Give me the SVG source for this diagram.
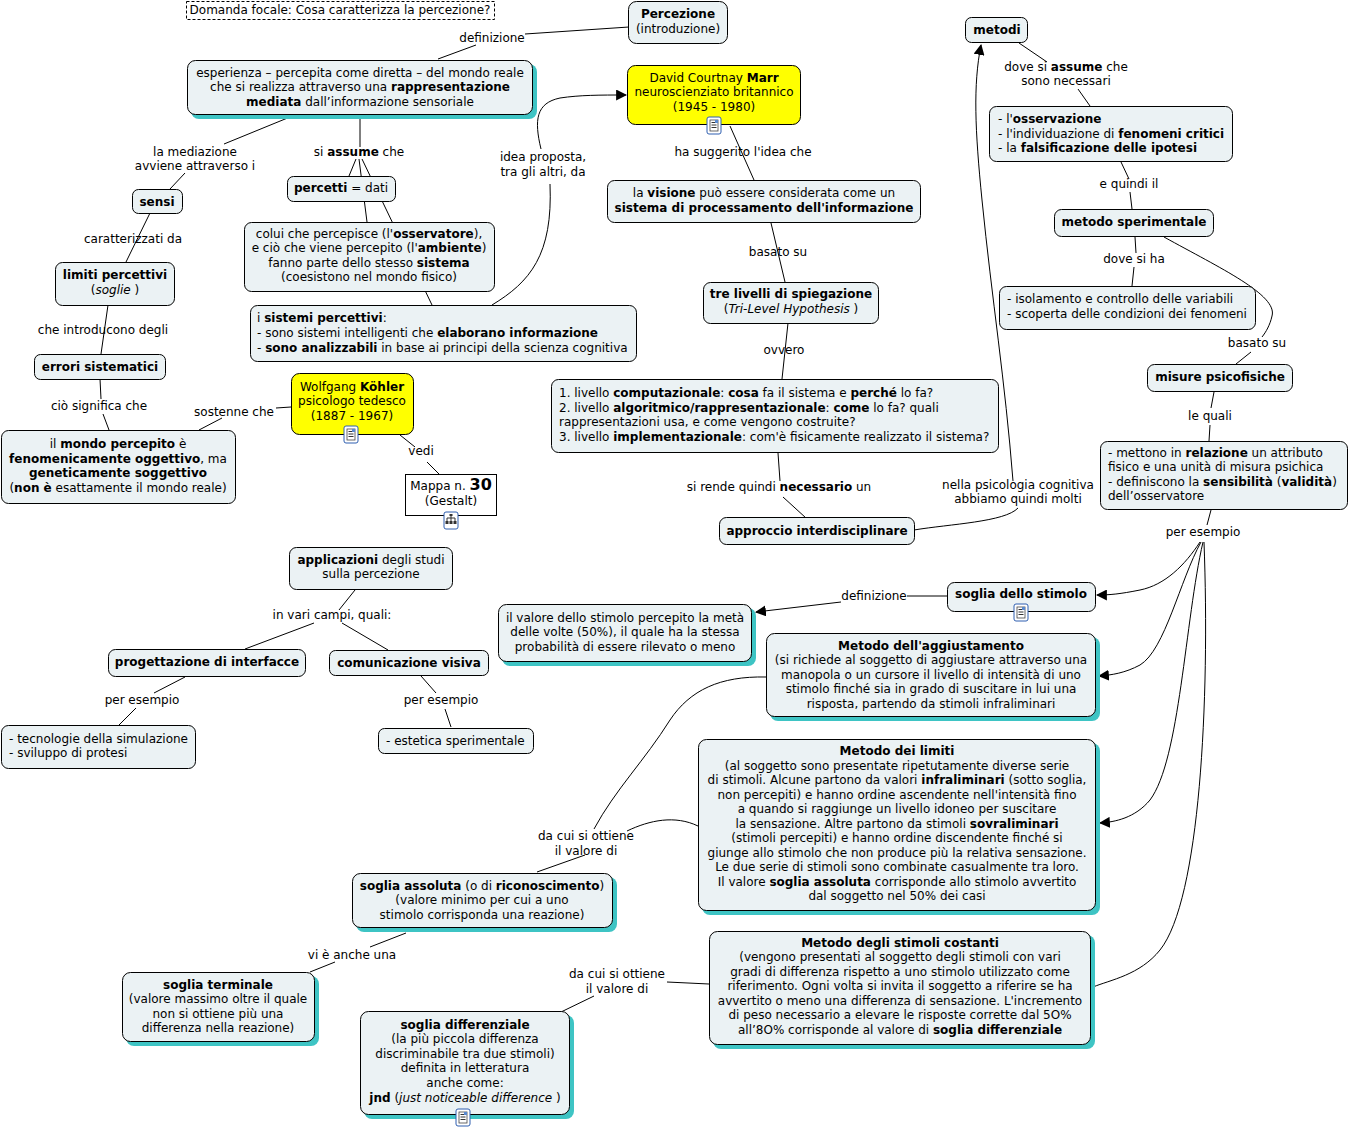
<svg xmlns="http://www.w3.org/2000/svg" width="1350" height="1129" viewBox="0 0 1350 1129">
<defs>
<style>
text{font-family:"DejaVu Sans",Verdana,sans-serif;font-size:12px;fill:#000}
.c{text-anchor:middle}
.b{font-weight:bold}
.i{font-style:italic}
.n{fill:#EBF2F4;stroke:#000;stroke-width:1}
.y{fill:#FFFF00;stroke:#000;stroke-width:1}
.sh{fill:#3EC4C4}
.l{fill:none;stroke:#000;stroke-width:1}
.ic{fill:#fff;stroke:#2F5FB0;stroke-width:1}
.il{fill:none;stroke:#333;stroke-width:1}
</style>
<marker id="ar" viewBox="0 0 10 10" refX="9" refY="5" markerWidth="11" markerHeight="11" markerUnits="userSpaceOnUse" orient="auto"><path d="M0,0 L10,5 L0,10 z" fill="#000"/></marker>
<g id="doc"><rect x="-7" y="-8" width="14" height="17" rx="2" class="ic"/><rect x="-4" y="-5" width="8" height="11" fill="#fff" stroke="#444" stroke-width="0.8"/><path d="M-2.5,-2.5h5M-2.5,0h5M-2.5,2.5h5" class="il"/><rect x="1" y="-5" width="3" height="3" fill="#5A8AD0"/></g>
<g id="map"><rect x="-7" y="-8" width="14" height="17" rx="2" class="ic"/><path d="M0,-5v3M-4,-2h8M-4,-2v3M4,-2v3M0,-2v3" class="il"/><rect x="-1.5" y="-6" width="3" height="2" fill="#333"/><rect x="-5.5" y="1" width="3" height="3" fill="#333"/><rect x="-1.5" y="1" width="3" height="3" fill="#333"/><rect x="2.5" y="1" width="3" height="3" fill="#333"/></g>
</defs>
<rect width="1350" height="1129" fill="#fff"/>

<g id="connectors">
<path class="l" d="M629,27 L525,34"/>
<path class="l" d="M476,45 L438,59"/>
<path class="l" d="M290,117 L224,144"/>
<path class="l" d="M185,173 L170,189"/>
<path class="l" d="M360,118 L360,147"/>
<path class="l" d="M356,159 L349,176"/>
<path class="l" d="M359,159 L367,222"/>
<path class="l" d="M362,159 L432,305"/>
<path class="l" d="M150,213 L126,262"/>
<path class="l" d="M108,305 L101,354"/>
<path class="l" d="M100,379 L101,399"/>
<path class="l" d="M103,414 L109,430"/>
<path class="l" d="M291,407 L276,408"/>
<path class="l" d="M222,418 L199,430"/>
<path class="l" d="M400,435 L415,447"/>
<path class="l" d="M427,462 L439,474"/>
<path class="l" d="M492,305 C530,282 553,255 550,184"/>
<path class="l" d="M541,149 C534,120 536,103 560,98 C580,95 600,95 626,95" marker-end="url(#ar)"/>
<path class="l" d="M730,126 L754,180"/>
<path class="l" d="M771,223 L785,282"/>
<path class="l" d="M788,323 L782,379"/>
<path class="l" d="M778,453 L780,481"/>
<path class="l" d="M783,497 L806,518"/>
<path class="l" d="M914,530 C950,524 1005,522 1018,508"/>
<path class="l" d="M1013,481 C1005,380 992,300 982,200 C975,130 973,85 981,45" marker-end="url(#ar)"/>
<path class="l" d="M1019,43 L1047,62"/>
<path class="l" d="M1078,89 L1090,106"/>
<path class="l" d="M1121,162 L1129,179"/>
<path class="l" d="M1130,192 L1132,209"/>
<path class="l" d="M1135,237 L1136,253"/>
<path class="l" d="M1134,267 L1132,286"/>
<path class="l" d="M1164,237 C1220,268 1278,295 1272,316 C1270,325 1266,332 1262,337"/>
<path class="l" d="M1251,352 L1236,364"/>
<path class="l" d="M1214,392 L1211,408"/>
<path class="l" d="M1210,425 L1209,441"/>
<path class="l" d="M1211,510 L1207,525"/>
<path class="l" d="M1200,542 C1185,565 1165,585 1140,590 C1120,594 1110,595 1097,595" marker-end="url(#ar)"/>
<path class="l" d="M1201,542 C1180,580 1165,650 1140,665 C1125,673 1112,675 1099,676" marker-end="url(#ar)"/>
<path class="l" d="M1203,542 C1185,620 1180,760 1150,800 C1135,818 1115,822 1100,823" marker-end="url(#ar)"/>
<path class="l" d="M1204,542 C1210,700 1200,900 1160,950 C1140,975 1110,980 1093,987"/>
<path class="l" d="M947,596 L907,596"/>
<path class="l" d="M841,602 L756,612" marker-end="url(#ar)"/>
<path class="l" d="M766,677 C720,676 690,690 670,720 C645,760 615,790 594,829"/>
<path class="l" d="M698,826 C675,815 650,820 627,831"/>
<path class="l" d="M585,855 L537,872"/>
<path class="l" d="M406,933 L370,947"/>
<path class="l" d="M335,962 L310,972"/>
<path class="l" d="M709,984 L667,982"/>
<path class="l" d="M594,996 L561,1012"/>
<path class="l" d="M355,590 L339,610"/>
<path class="l" d="M314,623 L245,649"/>
<path class="l" d="M342,623 L388,650"/>
<path class="l" d="M185,677 L154,693"/>
<path class="l" d="M136,708 L119,725"/>
<path class="l" d="M421,676 L436,693"/>
<path class="l" d="M445,709 L451,727"/>
</g>

<g id="link-labels">
<text class="c" x="492" y="42">definizione</text>
<text class="c" x="195" y="156">la mediazione</text>
<text class="c" x="195" y="170">avviene attraverso i</text>
<text class="c" x="359" y="156">si <tspan class="b">assume</tspan> che</text>
<text class="c" x="543" y="161">idea proposta,</text>
<text class="c" x="543" y="176">tra gli altri, da</text>
<text class="c" x="743" y="156">ha suggerito l'idea che</text>
<text class="c" x="778" y="256">basato su</text>
<text class="c" x="784" y="354">ovvero</text>
<text class="c" x="779" y="491">si rende quindi <tspan class="b">necessario</tspan> un</text>
<text class="c" x="1018" y="489">nella psicologia cognitiva</text>
<text class="c" x="1018" y="503">abbiamo quindi molti</text>
<text class="c" x="1066" y="71">dove si <tspan class="b">assume</tspan> che</text>
<text class="c" x="1066" y="85">sono necessari</text>
<text class="c" x="1129" y="188">e quindi il</text>
<text class="c" x="1134" y="263">dove si ha</text>
<text class="c" x="1257" y="347">basato su</text>
<text class="c" x="1210" y="420">le quali</text>
<text class="c" x="1203" y="536">per esempio</text>
<text class="c" x="133" y="243">caratterizzati da</text>
<text class="c" x="103" y="334">che introducono degli</text>
<text class="c" x="99" y="410">ciò significa che</text>
<text class="c" x="234" y="416">sostenne che</text>
<text class="c" x="421" y="455">vedi</text>
<text class="c" x="332" y="619">in vari campi, quali:</text>
<text class="c" x="142" y="704">per esempio</text>
<text class="c" x="441" y="704">per esempio</text>
<text class="c" x="874" y="600">definizione</text>
<text class="c" x="586" y="840">da cui si ottiene</text>
<text class="c" x="586" y="855">il valore di</text>
<text class="c" x="352" y="959">vi è anche una</text>
<text class="c" x="617" y="978">da cui si ottiene</text>
<text class="c" x="617" y="993">il valore di</text>
</g>

<g id="focus">
<rect x="186.5" y="1.5" width="308" height="18" fill="#fff" stroke="#000" stroke-dasharray="3,2"/>
<text class="c" x="340" y="14">Domanda focale: Cosa caratterizza la percezione?</text>
</g>

<g id="percezione">
<rect class="n" x="628.5" y="1.5" width="99" height="42" rx="8"/>
<text class="c b" x="678" y="18">Percezione</text>
<text class="c" x="678" y="33">(introduzione)</text>
</g>

<g id="esperienza">
<rect class="sh" x="191" y="64" width="346" height="55" rx="8"/>
<rect class="n" x="187.5" y="60.5" width="345" height="54" rx="8"/>
<text class="c" x="360" y="77">esperienza – percepita come diretta – del mondo reale</text>
<text class="c" x="360" y="91">che si realizza attraverso una <tspan class="b">rappresentazione</tspan></text>
<text class="c" x="360" y="106"><tspan class="b">mediata</tspan> dall’informazione sensoriale</text>
</g>

<g id="marr">
<rect class="y" x="627.5" y="65.5" width="173" height="59" rx="8"/>
<text class="c" x="714" y="82">David Courtnay <tspan class="b">Marr</tspan></text>
<text class="c" x="714" y="96">neuroscienziato britannico</text>
<text class="c" x="714" y="111">(1945 - 1980)</text>
<use href="#doc" x="714" y="125"/>
</g>

<g id="metodi">
<rect class="n" x="965.5" y="17.5" width="62" height="25" rx="6"/>
<text class="c b" x="997" y="34">metodi</text>
</g>

<g id="osservazione">
<rect class="n" x="989.5" y="106.5" width="243" height="55" rx="7"/>
<text x="998" y="123">- l'<tspan class="b">osservazione</tspan></text>
<text x="998" y="138">- l'individuazione di <tspan class="b">fenomeni critici</tspan></text>
<text x="998" y="152">- la <tspan class="b">falsificazione delle ipotesi</tspan></text>
</g>

<g id="metodo-sperimentale">
<rect class="n" x="1054.5" y="209.5" width="159" height="27" rx="7"/>
<text class="c b" x="1134" y="226">metodo sperimentale</text>
</g>

<g id="isolamento">
<rect class="n" x="999.5" y="286.5" width="256" height="43" rx="7"/>
<text x="1007" y="303">- isolamento e controllo delle variabili</text>
<text x="1007" y="318">- scoperta delle condizioni dei fenomeni</text>
</g>

<g id="misure">
<rect class="n" x="1147.5" y="364.5" width="145" height="27" rx="7"/>
<text class="c b" x="1220" y="381">misure psicofisiche</text>
</g>

<g id="mettono">
<rect class="n" x="1100.5" y="441.5" width="247" height="68" rx="7"/>
<text x="1108" y="457">- mettono in <tspan class="b">relazione</tspan> un attributo</text>
<text x="1108" y="471">fisico e una unità di misura psichica</text>
<text x="1108" y="486">- definiscono la <tspan class="b">sensibilità</tspan> (<tspan class="b">validità</tspan>)</text>
<text x="1108" y="500">dell’osservatore</text>
</g>

<g id="visione">
<rect class="n" x="607.5" y="180.5" width="313" height="42" rx="7"/>
<text class="c" x="764" y="197">la <tspan class="b">visione</tspan> può essere considerata come un</text>
<text class="c b" x="764" y="212">sistema di processamento dell'informazione</text>
</g>

<g id="tre-livelli">
<rect class="n" x="703.5" y="282.5" width="175" height="41" rx="7"/>
<text class="c b" x="791" y="298">tre livelli di spiegazione</text>
<text class="c" x="791" y="313">(<tspan class="i">Tri-Level Hypothesis</tspan> )</text>
</g>

<g id="livelli">
<rect class="n" x="551.5" y="379.5" width="447" height="73" rx="7"/>
<text x="559" y="397">1. livello <tspan class="b">computazionale</tspan>: <tspan class="b">cosa</tspan> fa il sistema e <tspan class="b">perché</tspan> lo fa?</text>
<text x="559" y="412">2. livello <tspan class="b">algoritmico/rappresentazionale</tspan>: <tspan class="b">come</tspan> lo fa? quali</text>
<text x="559" y="426">rappresentazioni usa, e come vengono costruite?</text>
<text x="559" y="441">3. livello <tspan class="b">implementazionale</tspan>: com'è fisicamente realizzato il sistema?</text>
</g>

<g id="approccio">
<rect class="n" x="719.5" y="517.5" width="195" height="27" rx="7"/>
<text class="c b" x="817" y="535">approccio interdisciplinare</text>
</g>

<g id="percetti">
<rect class="n" x="287.5" y="176.5" width="108" height="25" rx="6"/>
<text class="c" x="341" y="192"><tspan class="b">percetti</tspan> = dati</text>
</g>

<g id="sensi">
<rect class="n" x="132.5" y="189.5" width="50" height="24" rx="6"/>
<text class="c b" x="157" y="206">sensi</text>
</g>

<g id="colui">
<rect class="n" x="244.5" y="222.5" width="250" height="69" rx="7"/>
<text class="c" x="369" y="238">colui che percepisce (l'<tspan class="b">osservatore</tspan>),</text>
<text class="c" x="369" y="252">e ciò che viene percepito (l'<tspan class="b">ambiente</tspan>)</text>
<text class="c" x="369" y="267">fanno parte dello stesso <tspan class="b">sistema</tspan></text>
<text class="c" x="369" y="281">(coesistono nel mondo fisico)</text>
</g>

<g id="sistemi">
<rect class="n" x="250.5" y="305.5" width="386" height="56" rx="7"/>
<text x="257" y="322">i <tspan class="b">sistemi percettivi</tspan>:</text>
<text x="257" y="337">- sono sistemi intelligenti che <tspan class="b">elaborano informazione</tspan></text>
<text x="257" y="352">- <tspan class="b">sono analizzabili</tspan> in base ai principi della scienza cognitiva</text>
</g>

<g id="limiti-percettivi">
<rect class="n" x="55.5" y="262.5" width="119" height="43" rx="7"/>
<text class="c b" x="115" y="279">limiti percettivi</text>
<text class="c" x="115" y="294">(<tspan class="i">soglie</tspan> )</text>
</g>

<g id="errori">
<rect class="n" x="34.5" y="354.5" width="131" height="25" rx="6"/>
<text class="c b" x="100" y="371">errori sistematici</text>
</g>

<g id="mondo">
<rect class="n" x="1.5" y="430.5" width="234" height="73" rx="7"/>
<text class="c" x="118" y="448">il <tspan class="b">mondo percepito</tspan> è</text>
<text class="c" x="118" y="463"><tspan class="b">fenomenicamente oggettivo</tspan>, ma</text>
<text class="c" x="118" y="477"><tspan class="b">geneticamente soggettivo</tspan></text>
<text class="c" x="118" y="492">(<tspan class="b">non è</tspan> esattamente il mondo reale)</text>
</g>

<g id="kohler">
<rect class="y" x="291.5" y="373.5" width="122" height="61" rx="8"/>
<text class="c" x="352" y="391">Wolfgang <tspan class="b">Köhler</tspan></text>
<text class="c" x="352" y="405">psicologo tedesco</text>
<text class="c" x="352" y="420">(1887 - 1967)</text>
<use href="#doc" x="351" y="434"/>
</g>

<g id="mappa">
<rect x="405.5" y="474.5" width="91" height="41" fill="#fff" stroke="#000"/>
<text class="c" x="451" y="490">Mappa n. <tspan class="b" style="font-size:16px">30</tspan></text>
<text class="c" x="451" y="505">(Gestalt)</text>
<use href="#map" x="451" y="520"/>
</g>

<g id="applicazioni">
<rect class="n" x="289.5" y="547.5" width="163" height="42" rx="7"/>
<text class="c" x="371" y="564"><tspan class="b">applicazioni</tspan> degli studi</text>
<text class="c" x="371" y="578">sulla percezione</text>
</g>

<g id="progettazione">
<rect class="n" x="108.5" y="649.5" width="197" height="27" rx="7"/>
<text class="c b" x="207" y="666">progettazione di interfacce</text>
</g>

<g id="comunicazione">
<rect class="n" x="329.5" y="650.5" width="159" height="25" rx="6"/>
<text class="c b" x="409" y="667">comunicazione visiva</text>
</g>

<g id="tecnologie">
<rect class="n" x="1.5" y="725.5" width="194" height="43" rx="7"/>
<text x="9" y="743">- tecnologie della simulazione</text>
<text x="9" y="757">- sviluppo di protesi</text>
</g>

<g id="estetica">
<rect class="n" x="378.5" y="728.5" width="155" height="25" rx="6"/>
<text x="386" y="745">- estetica sperimentale</text>
</g>

<g id="soglia-stimolo">
<rect class="n" x="947.5" y="582.5" width="148" height="29" rx="7"/>
<text class="c b" x="1021" y="598">soglia dello stimolo</text>
<use href="#doc" x="1021" y="612"/>
</g>

<g id="valore">
<rect class="sh" x="502" y="608" width="254" height="58" rx="8"/>
<rect class="n" x="498.5" y="604.5" width="253" height="57" rx="8"/>
<text class="c" x="625" y="622">il valore dello stimolo percepito la metà</text>
<text class="c" x="625" y="636">delle volte (50%), il quale ha la stessa</text>
<text class="c" x="625" y="651">probabilità di essere rilevato o meno</text>
</g>

<g id="aggiustamento">
<rect class="sh" x="770" y="637" width="330" height="84" rx="8"/>
<rect class="n" x="766.5" y="633.5" width="329" height="83" rx="8"/>
<text class="c b" x="931" y="650">Metodo dell'aggiustamento</text>
<text class="c" x="931" y="664">(si richiede al soggetto di aggiustare attraverso una</text>
<text class="c" x="931" y="679">manopola o un cursore il livello di intensità di uno</text>
<text class="c" x="931" y="693">stimolo finché sia in grado di suscitare in lui una</text>
<text class="c" x="931" y="708">risposta, partendo da stimoli infraliminari</text>
</g>

<g id="limiti-metodo">
<rect class="sh" x="702" y="743" width="398" height="172" rx="8"/>
<rect class="n" x="698.5" y="739.5" width="397" height="171" rx="8"/>
<text class="c b" x="897" y="755">Metodo dei limiti</text>
<text class="c" x="897" y="770">(al soggetto sono presentate ripetutamente diverse serie</text>
<text class="c" x="897" y="784">di stimoli. Alcune partono da valori <tspan class="b">infraliminari</tspan> (sotto soglia,</text>
<text class="c" x="897" y="799">non percepiti) e hanno ordine ascendente nell'intensità fino</text>
<text class="c" x="897" y="813">a quando si raggiunge un livello idoneo per suscitare</text>
<text class="c" x="897" y="828">la sensazione. Altre partono da stimoli <tspan class="b">sovraliminari</tspan></text>
<text class="c" x="897" y="842">(stimoli percepiti) e hanno ordine discendente finché si</text>
<text class="c" x="897" y="857">giunge allo stimolo che non produce più la relativa sensazione.</text>
<text class="c" x="897" y="871">Le due serie di stimoli sono combinate casualmente tra loro.</text>
<text class="c" x="897" y="886">Il valore <tspan class="b">soglia assoluta</tspan> corrisponde allo stimolo avvertito</text>
<text class="c" x="897" y="900">dal soggetto nel 50% dei casi</text>
</g>

<g id="costanti">
<rect class="sh" x="713" y="935" width="382" height="114" rx="8"/>
<rect class="n" x="709.5" y="931.5" width="381" height="113" rx="8"/>
<text class="c b" x="900" y="947">Metodo degli stimoli costanti</text>
<text class="c" x="900" y="961">(vengono presentati al soggetto degli stimoli con vari</text>
<text class="c" x="900" y="976">gradi di differenza rispetto a uno stimolo utilizzato come</text>
<text class="c" x="900" y="990">riferimento. Ogni volta si invita il soggetto a riferire se ha</text>
<text class="c" x="900" y="1005">avvertito o meno una differenza di sensazione. L'incremento</text>
<text class="c" x="900" y="1019">di peso necessario a elevare le risposte corrette dal 5O%</text>
<text class="c" x="900" y="1034">all’8O% corrisponde al valore di <tspan class="b">soglia differenziale</tspan></text>
</g>

<g id="soglia-assoluta">
<rect class="sh" x="356" y="877" width="261" height="55" rx="8"/>
<rect class="n" x="352.5" y="873.5" width="260" height="54" rx="8"/>
<text class="c" x="482" y="890"><tspan class="b">soglia assoluta</tspan> (o di <tspan class="b">riconoscimento</tspan>)</text>
<text class="c" x="482" y="904">(valore minimo per cui a uno</text>
<text class="c" x="482" y="919">stimolo corrisponda una reazione)</text>
</g>

<g id="soglia-terminale">
<rect class="sh" x="126" y="976" width="193" height="70" rx="8"/>
<rect class="n" x="122.5" y="972.5" width="192" height="69" rx="8"/>
<text class="c b" x="218" y="989">soglia terminale</text>
<text class="c" x="218" y="1003">(valore massimo oltre il quale</text>
<text class="c" x="218" y="1018">non si ottiene più una</text>
<text class="c" x="218" y="1032">differenza nella reazione)</text>
</g>

<g id="soglia-differenziale">
<rect class="sh" x="364" y="1015" width="210" height="104" rx="8"/>
<rect class="n" x="360.5" y="1011.5" width="209" height="103" rx="8"/>
<text class="c b" x="465" y="1029">soglia differenziale</text>
<text class="c" x="465" y="1043">(la più piccola differenza</text>
<text class="c" x="465" y="1058">discriminabile tra due stimoli)</text>
<text class="c" x="465" y="1072">definita in letteratura</text>
<text class="c" x="465" y="1087">anche come:</text>
<text class="c" x="465" y="1102"><tspan class="b">jnd</tspan> (<tspan class="i">just noticeable difference</tspan> )</text>
<use href="#doc" x="463" y="1117"/>
</g>
</svg>
